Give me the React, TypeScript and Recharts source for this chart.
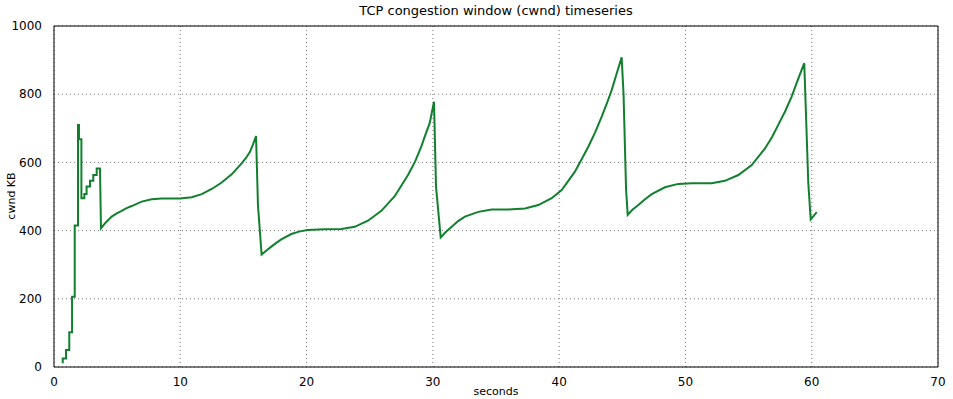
import React from "react";
import {
  LineChart,
  Line,
  XAxis,
  YAxis,
  CartesianGrid,
  ReferenceLine,
} from "recharts";

// slow start phase (stepped)
const startSeconds = [0.69, 0.69, 0.95, 0.95, 1.21, 1.21, 1.43, 1.43, 1.64, 1.64, 1.9, 1.9, 1.98, 1.98, 2.17, 2.17, 2.4, 2.4, 2.58, 2.58, 2.85, 2.85, 3.11, 3.11, 3.38, 3.38, 3.64];
const startCwnd = [11, 25, 25, 50, 50, 102, 102, 206, 206, 415, 415, 710, 710, 668, 668, 495, 495, 507, 507, 529, 529, 546, 546, 563, 563, 582, 582];

// cubic growth / loss cycles afterwards
const cubicSeconds = [
  3.72, 4.1, 4.57, 5.0, 5.36, 5.75, 6.15, 6.94, 7.73, 8.53, 9.98, 10.9, 11.7, 12.49, 13.28, 14.07, 14.86, 15.2, 15.52, 15.75, 16.0, 16.15, 16.44,
  16.8, 17.21, 17.6, 18.0, 18.79, 19.4, 20.06, 21.43, 22.75, 23.81, 24.86, 25.92, 26.98, 28.03, 28.6, 29.08, 29.4, 29.75, 30.09, 30.25, 30.62,
  31.0, 31.49, 32.0, 32.54, 33.6, 34.66, 35.97, 37.3, 38.35, 39.41, 40.2, 41.25, 42.31, 42.85, 43.37, 43.8, 44.16, 44.55, 44.95, 45.1, 45.3, 45.43,
  45.8, 46.27, 46.8, 47.33, 48.38, 49.43, 50.5, 52.08, 53.13, 54.19, 55.25, 56.3, 56.85, 57.35, 57.9, 58.41, 58.9, 59.41, 59.73, 59.92, 60.4,
];
const cubicCwnd = [
  407, 424, 441, 451, 458, 466, 472, 485, 492, 494, 494, 498, 507, 522, 541, 565, 597, 613, 631, 652, 677, 475, 330,
  341, 353, 364, 374, 390, 397, 402, 404, 405, 411, 429, 458, 501, 563, 603, 646, 680, 715, 778, 529, 380,
  395, 411, 428, 441, 455, 462, 462, 465, 475, 495, 519, 573, 646, 688, 734, 775, 812, 860, 908, 800, 520, 446,
  461, 475, 492, 507, 527, 537, 539, 539, 546, 563, 592, 641, 674, 710, 750, 793, 842, 891, 539, 433, 454,
];

const xTicks = [0, 10, 20, 30, 40, 50, 60, 70];
const yTicks = [0, 200, 400, 600, 800, 1000];

const seconds = [...startSeconds, ...cubicSeconds];
const cwnd = [...startCwnd, ...cubicCwnd];
const data = seconds.map((s, i) => ({ s, cwnd: cwnd[i] }));

const FONT = "DejaVu Sans, sans-serif";
const GREEN = "#11802e";

export default function App() {
  return (
    <div style={{ position: "absolute", left: 0, top: 0, width: 953, height: 399, background: "#fff", fontFamily: FONT }}>
      <div style={{ position: "absolute", left: 54, width: 884, top: 3, textAlign: "center", fontSize: 13, color: "#000" }}>
        TCP congestion window (cwnd) timeseries
      </div>
      <div
        style={{
          position: "absolute",
          left: 11,
          top: 196,
          transform: "translate(-50%, -50%) rotate(-90deg)",
          fontSize: 11,
          whiteSpace: "nowrap",
          color: "#000",
        }}
      >
        cwnd KB
      </div>
      <div style={{ position: "absolute", left: 54, width: 884, top: 385, textAlign: "center", fontSize: 11, color: "#000" }}>
        seconds
      </div>
      <LineChart width={953} height={399} data={data} margin={{ top: 26, right: 15, bottom: 0, left: 14 }}>
        <CartesianGrid stroke="#777" strokeDasharray="1 3" />
        <XAxis
          type="number"
          dataKey="s"
          domain={[0, 70]}
          ticks={xTicks}
          height={32}
          allowDuplicatedCategory={false}
          tickLine={false}
          tickMargin={4}
          stroke="#000"
          tick={{ fill: "#000", fontSize: 12, fontFamily: FONT }}
        />
        <YAxis
          type="number"
          domain={[0, 1000]}
          ticks={yTicks}
          width={40}
          tickLine={false}
          tickMargin={6}
          stroke="#000"
          tick={{ fill: "#000", fontSize: 12, fontFamily: FONT }}
        />
        <ReferenceLine x={70} stroke="#000" />
        <ReferenceLine y={1000} stroke="#000" />
        <Line
          dataKey="cwnd"
          type="linear"
          stroke={GREEN}
          strokeWidth={2}
          dot={false}
          isAnimationActive={false}
        />
      </LineChart>
    </div>
  );
}
